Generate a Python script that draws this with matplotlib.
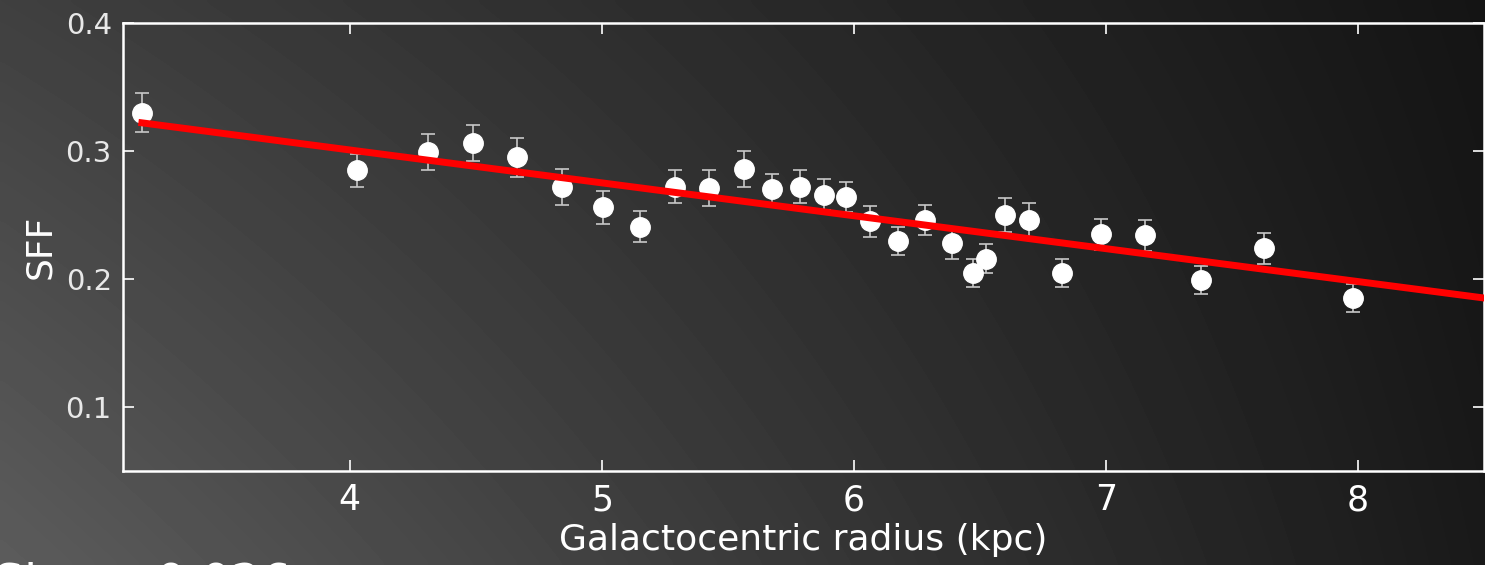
import matplotlib
matplotlib.use("Agg")
import matplotlib.pyplot as plt
import numpy as np

# galactocentric radius (kpc) and star formation fraction
radius = [3.175, 4.03, 4.31, 4.49, 4.664, 4.84, 5.005, 5.15, 5.29, 5.425,
          5.564, 5.675, 5.786, 5.88, 5.97, 6.064, 6.175, 6.282, 6.39, 6.473,
          6.525, 6.60, 6.695, 6.826, 6.98, 7.155, 7.378, 7.628, 7.98]
sff = [0.330, 0.285, 0.299, 0.306, 0.295, 0.272, 0.256, 0.241, 0.272, 0.271,
       0.286, 0.270, 0.272, 0.266, 0.264, 0.245, 0.230, 0.246, 0.228, 0.205,
       0.216, 0.250, 0.246, 0.205, 0.235, 0.234, 0.199, 0.224, 0.185]
sff_err = [0.015, 0.013, 0.014, 0.014, 0.015, 0.014, 0.013, 0.012, 0.013, 0.014,
           0.014, 0.012, 0.013, 0.012, 0.012, 0.012, 0.011, 0.012, 0.012, 0.011,
           0.011, 0.013, 0.013, 0.011, 0.012, 0.012, 0.011, 0.012, 0.011]

# linear fit
fit_slope = -0.0257
fit_intercept = 0.4036

xticks = [4, 5, 6, 7, 8]
yticks = [0.1, 0.2, 0.3, 0.4]


def draw_background(fig):
    # dark gradient, lighter towards bottom-left
    bg = fig.add_axes([0, 0, 1, 1], zorder=-10)
    u = np.linspace(0, 1, 300)[None, :]
    v = np.linspace(0, 1, 120)[:, None]
    tl, bl, tr, br = 0.25, 0.36, 0.08, 0.10
    top = tl + (tr - tl) * u
    bot = bl + (br - bl) * u
    img = top + (bot - top) * v
    bg.imshow(img, cmap="gray", vmin=0, vmax=1, aspect="auto",
              extent=[0, 1, 0, 1], interpolation="bicubic")
    bg.set_axis_off()


def main():
    fig = plt.figure(figsize=(14.85, 5.65), dpi=100)
    draw_background(fig)

    ax = fig.add_axes([0.0828, 0.1664, 0.9165, 0.7929])
    ax.set_facecolor("none")

    ax.errorbar(radius, sff, yerr=sff_err, fmt="o", color="white",
                markersize=14, markeredgecolor="white", ecolor="#c8c8c8",
                elinewidth=1.2, capsize=5, capthick=1.2, zorder=3)

    x_fit = np.array([min(radius), 9.0])
    ax.plot(x_fit, fit_slope * x_fit + fit_intercept, color="red", lw=5, zorder=4)

    ax.set_xlim(3.1, 8.5)
    ax.set_ylim(0.05, 0.4)
    ax.set_xticks(xticks)
    ax.set_yticks(yticks)
    ax.tick_params(axis="both", direction="in", length=8, width=1.2,
                   color="white", top=True, right=True)
    ax.tick_params(axis="x", labelsize=25, labelcolor="white", pad=9)
    ax.tick_params(axis="y", labelsize=21, labelcolor="#e8e8e8", pad=8)
    for s in ax.spines.values():
        s.set_color("white")
        s.set_linewidth(1.8)

    ax.set_xlabel("Galactocentric radius (kpc)", fontsize=26, color="white",
                  labelpad=4)
    ax.set_ylabel("SFF", fontsize=26, color="white", labelpad=6)

    # caption text cut off at the bottom edge
    fig.text(-0.004, 1 - 562 / 565, "Slope: 0.026", fontsize=34,
             color="white", va="top", ha="left")

    fig.savefig("out.png", dpi=100)


if __name__ == "__main__":
    main()
